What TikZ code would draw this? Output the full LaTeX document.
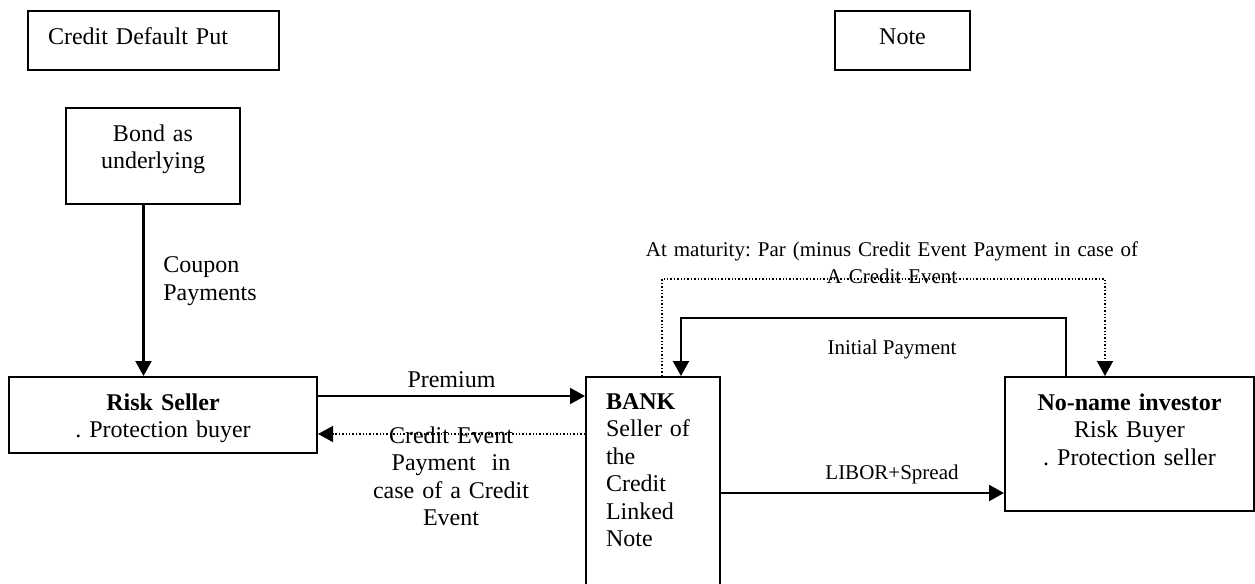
\documentclass[tikz,border=0pt]{standalone}
\usepackage{fontspec}
\setmainfont{Liberation Serif}
\usepackage{tikz}
\usetikzlibrary{arrows.meta,positioning,calc}
\frenchspacing

\begin{document}
\begin{tikzpicture}[x=0.5pt,y=-0.5pt,
	font=\fontsize{12}{13.75}\selectfont,
	box/.style={draw, line width=1pt, inner sep=0pt, anchor=north, align=center},
	flow/.style={line width=1.1pt, -{Triangle[length=7.5pt,width=8pt]}},
	dotflow/.style={line width=0.7pt, densely dotted, -{Triangle[length=7.5pt,width=8pt]}},
	txt/.style={inner sep=0pt, anchor=base},
	smalltxt/.style={txt, font=\fontsize{10.5}{13.5}\selectfont}]
				\useasboundingbox (0,0) rectangle (1255,584);
				
				\node [box, text width=105.5pt, inner xsep=10pt, align=left, text height=16.75pt, text depth=12.75pt] (cdp) at (153.5,10) {Credit Default Put};
				\node [box, text width=67.5pt, text height=16.75pt, text depth=12.75pt] (note) at (902.5,10) {Note};
				
				\node [box, text width=87pt, text height=16.5pt, text depth=31.5pt] (bond) at (153,107) {Bond as\\underlying};
				\node [box, text width=154pt, text height=16.5pt, text depth=21.5pt] (riskseller) at (163,376) {\textbf{Risk Seller}\\. Protection buyer};
				\node [box, text width=47pt, inner xsep=10pt, align=left, text height=16pt, text depth=106pt] (bank) at (653,376) {\textbf{BANK}\\Seller of\\the\\Credit\\Linked\\Note};
				\node [box, text width=124.5pt, text height=16.5pt, text depth=50.5pt] (noname) at (1129.5,376) {\textbf{No-name investor}\\Risk Buyer\\. Protection seller};
				
				\draw [flow] ($(bond.south)+(-9.5,0)$) -- ($(bond.south |- riskseller.north)+(-9.5,0)$);
				\draw [flow] ($(riskseller.east)+(0,-19)$) -- ($(riskseller.east -| bank.west)+(0,-19)$);
				\draw [dotflow] ($(riskseller.east -| bank.west)+(0,19)$) -- ($(riskseller.east)+(0,19)$);
				\draw [flow] ($(noname.west -| bank.east)+(0,49)$) -- ($(noname.west)+(0,49)$);
				\draw [flow] ($(noname.north)+(-63.5,0)$) -- ++(0,-58) -| ($(bank.north)+(28,0)$);
				\draw [dotflow] ($(bank.north)+(9,0)$) -- ++(0,-97) -| ($(noname.north)+(-24.5,0)$);
				
				% % % % % % % % % % % % % % % % % % % % % % % % % %
				
				\node [txt, anchor=base west, text width=60pt, align=left] (coupon) at (163,272.5) {Coupon\\Payments};
				\node [txt] (premium) at (451.5,387) {Premium};
				\node [txt, text width=90pt, align=center] (cepay) at (451,443) {Credit Event\\Payment\ \ in\\case of a Credit\\Event};
				\node [smalltxt] (libor) at (892,479) {LIBOR+Spread};
				\node [smalltxt] (initial) at (892,354) {Initial Payment};
				\node [smalltxt, text width=260pt, align=center] (maturity) at (892,256) {At maturity: Par (minus Credit Event Payment in case of\\A Credit Event};
\end{tikzpicture}
\end{document}
